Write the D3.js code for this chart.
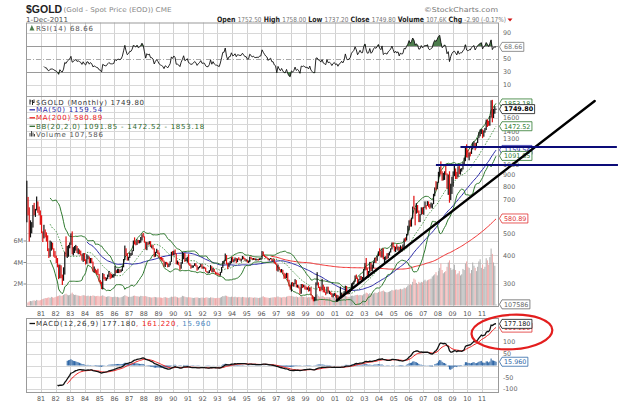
<!DOCTYPE html>
<html>
<head>
<meta charset="utf-8">
<script src="https://cdn.jsdelivr.net/npm/d3@7"></script>
<style>
body { margin: 0; background: #fff; }
text { font-family: "DejaVu Sans", sans-serif; }
</style>
</head>
<body>
<script>
// $GOLD monthly bars, Jan 1980 .. Dec 2011 (one row per year)
var startYear = 1980;

var closes = [
  653,637,494,518,535,653,614,631,666,629,619,589,
  506,489,513,482,480,426,406,425,428,427,414,397,
  387,362,320,361,326,317,342,411,397,423,436,448,
  481,408,414,432,437,416,422,414,405,383,405,382,
  370,395,395,373,385,373,342,348,341,333,329,309,
  306,287,329,322,316,317,327,334,326,325,325,327,
  345,338,344,345,343,346,357,384,423,401,383,391,
  405,406,421,453,451,447,462,453,460,468,492,484,
  458,426,457,450,456,436,436,427,397,412,421,410,
  394,387,383,377,361,373,368,359,367,376,409,401,
  415,407,368,368,363,352,372,387,408,380,384,391,
  367,362,355,357,361,368,362,347,354,358,366,353,
  354,353,341,337,337,343,358,340,349,339,334,333,
  330,327,337,354,377,378,401,371,355,369,370,391,
  378,381,389,377,387,386,384,385,394,389,383,383,
  375,376,392,389,384,387,383,383,384,383,387,387,
  405,400,396,392,390,382,385,387,379,379,371,369,
  345,358,348,340,345,334,326,325,332,311,296,290,
  304,297,301,310,293,296,288,273,294,292,294,288,
  287,287,280,287,268,262,255,255,299,300,292,290,
  284,293,279,276,272,288,276,278,273,264,270,273,
  265,267,258,264,266,271,266,273,293,279,275,277,
  282,297,303,309,326,318,304,313,324,317,317,348,
  368,348,336,338,365,346,354,375,388,384,398,416,
  402,396,427,386,394,395,391,408,416,428,453,438,
  422,435,427,435,415,435,429,434,473,470,495,517,
  569,556,582,654,643,614,633,624,599,604,646,632,
  650,665,662,680,656,650,665,673,743,790,783,834,
  923,972,916,865,886,928,912,833,871,718,814,882,
  927,943,917,883,979,927,954,955,1000,1040,1182,1097,
  1082,1118,1113,1180,1213,1242,1181,1247,1307,1357,1385,1421,
  1332,1409,1431,1564,1537,1502,1627,1827,1624,1723,1746,1749.8
];

var highs = [
  850,722,650,570,560,665,680,640,725,690,655,630,
  600,510,545,520,505,490,430,465,460,455,430,418,
  400,390,365,365,362,330,355,415,485,440,445,456,
  500,510,435,440,445,440,430,425,420,405,410,410,
  385,405,400,396,390,390,376,358,350,345,350,332,
  312,307,335,332,322,320,330,342,337,332,330,332,
  360,345,350,350,347,348,360,386,442,430,410,395,
  412,410,422,465,480,460,470,468,467,482,495,502,
  485,460,458,457,462,462,443,445,430,415,428,422,
  412,394,394,390,380,375,375,372,368,377,415,418,
  420,425,408,380,375,364,374,415,410,410,390,395,
  405,370,365,362,362,370,370,362,356,360,368,366,
  358,357,354,342,340,345,363,359,352,349,340,337,
  336,332,339,356,378,380,408,402,372,372,378,393,
  395,385,392,390,388,393,388,387,398,396,390,385,
  383,380,395,396,390,390,389,388,386,387,389,390,
  418,416,403,398,395,390,387,390,389,385,386,374,
  369,365,357,348,349,346,336,333,336,335,313,298,
  305,306,303,315,312,298,296,290,300,300,298,296,
  292,290,294,290,290,268,264,263,305,338,305,292,
  292,316,298,292,278,292,292,280,278,274,272,274,
  273,269,268,265,292,275,272,279,295,294,280,280,
  286,302,305,310,327,330,320,315,326,325,322,349,
  371,390,352,342,375,371,365,377,391,392,400,417,
  430,418,428,430,395,397,409,410,416,430,456,457,
  440,437,448,438,436,443,438,447,475,479,497,540,
  570,575,585,655,730,645,678,665,630,607,650,650,
  653,690,665,692,690,672,682,676,745,794,846,840,
  930,976,1033,935,920,935,988,915,905,935,825,885,
  934,1005,962,930,983,990,960,966,1025,1072,1195,1227,
  1162,1130,1140,1181,1249,1265,1244,1250,1310,1388,1424,1431,
  1425,1412,1447,1575,1577,1556,1632,1913,1921,1756,1804,1758
];

var lows = [
  559,600,460,480,500,530,600,590,630,615,600,545,
  500,458,475,480,460,418,390,395,420,425,395,390,
  370,355,315,318,318,297,310,330,395,390,395,430,
  445,405,400,410,420,410,405,405,400,380,375,378,
  365,368,385,370,370,370,340,337,336,330,328,307,
  300,285,284,315,310,310,315,322,315,318,320,320,
  325,335,335,335,336,338,342,355,382,398,380,380,
  390,398,402,418,447,443,445,452,452,455,465,480,
  455,425,422,445,447,435,430,425,393,395,410,405,
  392,385,380,376,358,356,365,355,356,362,375,400,
  400,405,366,365,362,345,350,368,385,375,378,372,
  365,360,350,353,354,360,358,343,347,352,356,350,
  350,350,340,336,334,335,343,338,338,338,331,330,
  328,326,326,336,353,366,378,365,349,355,365,370,
  375,373,379,370,374,382,380,376,384,385,380,376,
  372,371,374,386,382,383,382,380,381,380,382,383,
  387,398,394,390,388,381,380,385,378,377,369,366,
  343,340,347,337,338,333,316,318,318,308,293,283,
  278,293,292,300,290,289,287,271,272,288,290,284,
  283,283,278,279,267,257,252,252,254,296,288,279,
  279,283,276,275,268,272,275,271,269,263,262,266,
  262,255,255,255,263,264,263,265,270,277,270,271,
  276,280,288,299,307,316,301,300,312,311,314,316,
  344,345,323,320,336,342,341,352,371,371,379,397,
  399,392,392,385,371,381,386,389,400,412,425,434,
  417,414,425,420,414,415,417,428,433,460,465,490,
  515,535,535,580,640,542,610,615,560,560,603,606,
  603,647,636,660,650,640,648,642,671,728,772,780,
  833,887,905,850,853,857,902,785,737,681,700,744,
  800,890,865,866,881,908,904,932,952,1001,1035,1075,
  1073,1044,1087,1114,1165,1203,1155,1179,1243,1305,1330,1361,
  1308,1325,1380,1417,1462,1478,1480,1605,1532,1600,1670,1737
];

// volume in thousands
var volumes = [
  220,300,380,420,400,450,480,430,520,480,460,500,
  560,600,640,700,680,720,760,700,800,760,720,780,
  820,860,900,950,880,920,980,1050,1100,1000,950,980,
  1100,1200,1050,980,1000,950,920,900,880,920,960,940,
  900,880,920,860,900,880,940,900,860,880,900,850,
  860,900,950,880,820,800,840,860,820,800,780,800,
  820,780,800,760,740,780,820,880,960,900,840,800,
  820,800,840,900,920,880,860,840,820,900,880,860,
  860,880,840,800,780,760,740,760,800,780,760,740,
  760,740,720,700,760,780,740,720,700,760,820,800,
  820,840,800,760,720,740,780,900,860,820,780,760,
  780,760,740,720,700,720,740,760,720,700,720,740,
  720,700,740,760,720,700,760,740,720,700,680,700,
  720,700,740,800,880,860,920,900,840,800,780,820,
  800,780,820,780,760,800,780,760,800,780,760,740,
  760,740,780,760,740,720,760,740,720,700,720,740,
  820,860,780,760,740,720,700,720,740,760,780,760,
  820,840,780,760,740,780,800,760,820,860,900,880,
  900,860,820,800,840,780,760,820,880,840,800,780,
  760,740,780,760,800,840,860,820,1000,1050,900,820,
  800,900,860,780,760,800,780,760,740,780,760,740,
  760,780,800,760,840,780,760,780,900,860,820,800,
  840,900,920,880,960,980,1000,940,980,960,940,1050,
  1100,1200,1150,1050,1150,1100,1050,1120,1200,1180,1160,1250,
  1300,1280,1350,1400,1300,1250,1200,1260,1300,1350,1450,1400,
  1420,1480,1500,1450,1500,1550,1500,1520,1650,1600,1700,1850,
  1950,2000,1900,2200,2500,2400,2100,2000,2200,2100,2200,2150,
  2300,2400,2250,2350,2400,2450,2500,2700,2800,2900,3100,2800,
  3200,3500,3900,3300,3000,3100,3200,3600,4000,4200,3500,3300,
  3400,3800,3300,2900,3000,3200,2800,2900,3400,3300,3900,4100,
  3600,3500,3000,3300,4000,3700,3500,3200,3600,4100,4300,3500,
  3800,3400,3600,4400,4200,3800,4500,5300,4800,4000,3700,108
];

var yearLabels = ['81','82','83','84','85','86','87','88','89','90','91','92','93','94','95','96',
                  '97','98','99','00','01','02','03','04','05','06','07','08','09','10','11'];
var priceTicks = [300,400,500,600,700,800,900,1000,1100,1200,1300,1400,1500,1600,1700,1800];
var volumeTicks = [2000,4000,6000];
var volumeTickLabels = ['2M','4M','6M'];
var rsiTicks = [10,30,50,70,90];
var macdTicks = [-100,-50,0,50,100,150];

// last values as printed on the chart
var lastClose = 1749.80, lastMa50 = 1159.54, lastMa200 = 580.89;
var lastBB = [1091.85, 1472.52, 1853.18];
var lastVolume = 107586, lastRsi = 68.66;
var lastMacd = [177.180, 161.220, 15.960];

// hand-drawn marks on the picture, in date / value terms
var trendLine = [['2001-02-15', 254], ['2018-09-01', 1900]];
var levelLines = [
  [['2009-07-15', 1194], ['2020-03-05', 1194]],
  [['2007-11-13', 996], ['2020-04-01', 996]]
];
var macdCircle = {from: '2010-04-15', to: '2015-10-15', top: 216, bottom: 69};

var parse = d3.timeParse('%Y-%m-%d');
var L = 26, R = 499;
var rsiTop = 22.5, rsiBottom = 96, mainTop = 96, mainBottom = 306, macdTop = 318, macdBottom = 392;

var x = d3.scaleTime().domain([new Date(1981, 0, 1), new Date(2011, 0, 1)]).range([41, 482]);
var yPrice = d3.scaleLog().domain([300, 1600]).range([284, 118]);
var yVol = d3.scaleLinear().domain([0, 6000]).range([305.5, 241]);
var yRsi = d3.scaleLinear().domain([30, 70]).range([72, 46]);
var yMacd = d3.scaleLinear().domain([-100, 100]).range([389, 342]);

var bars = closes.map(function(c, i) {
    return {
        date: new Date(startYear + Math.floor(i / 12), i % 12, 15),
        close: c, high: highs[i], low: lows[i], vol: volumes[i],
        up: i === 0 || c >= closes[i - 1]
    };
});

function sma(a, n) {
    return a.map(function(v, i) { return i < n - 1 ? null : d3.mean(a.slice(i - n + 1, i + 1)); });
}
function ema(a, n) {
    var out = a.map(function() { return null; });
    var f = a.findIndex(function(v) { return v != null; });
    var s = f + n - 1, k = 2 / (n + 1);
    if (f < 0 || s >= a.length) return out;
    out[s] = d3.mean(a.slice(f, s + 1));
    for (var i = s + 1; i < a.length; i++) out[i] = a[i] * k + out[i - 1] * (1 - k);
    return out;
}
function rsi(a, n) {
    var out = a.map(function() { return null; });
    var g = 0, l = 0;
    for (var i = 1; i <= n; i++) {
        var d = a[i] - a[i - 1];
        if (d > 0) g += d; else l -= d;
    }
    g /= n; l /= n;
    out[n] = 100 - 100 / (1 + g / l);
    for (i = n + 1; i < a.length; i++) {
        d = a[i] - a[i - 1];
        g = (g * (n - 1) + Math.max(d, 0)) / n;
        l = (l * (n - 1) + Math.max(-d, 0)) / n;
        out[i] = 100 - 100 / (1 + g / l);
    }
    return out;
}

var ma50 = sma(closes, 50), ma200 = sma(closes, 200), mid20 = sma(closes, 20);
var sd20 = closes.map(function(v, i) {
    if (i < 19) return null;
    return Math.sqrt(d3.mean(closes.slice(i - 19, i + 1), function(c) { return (c - mid20[i]) * (c - mid20[i]); }));
});
var bbUp = mid20.map(function(m, i) { return m == null ? null : m + 2 * sd20[i]; });
var bbLo = mid20.map(function(m, i) { return m == null ? null : m - 2 * sd20[i]; });
var rsi14 = rsi(closes, 14);
var ema12 = ema(closes, 12), ema26 = ema(closes, 26);
var macd = closes.map(function(v, i) { return ema26[i] == null ? null : ema12[i] - ema26[i]; });
var signal = ema(macd, 9);
var hist = macd.map(function(v, i) { return signal[i] == null ? null : v - signal[i]; });

function pathOf(vals, ys) {
    return d3.line()
        .defined(function(d, i) { return vals[i] != null; })
        .x(function(d) { return x(d.date); })
        .y(function(d, i) { return ys(vals[i]); })(bars);
}

var svg = d3.select('body').append('svg')
    .attr('width', 640).attr('height', 405).style('display', 'block');
svg.append('rect').attr('width', 640).attr('height', 405).attr('fill', '#fff');

var defs = svg.append('defs');
[['clipRsi', rsiTop, rsiBottom], ['clipMain', mainTop, mainBottom], ['clipMacd', macdTop, macdBottom]].forEach(function(c) {
    defs.append('clipPath').attr('id', c[0]).append('rect')
        .attr('x', L).attr('y', c[1]).attr('width', R - L).attr('height', c[2] - c[1]);
});

var yearDates = yearLabels.map(function(s, i) { return new Date(1981 + i, 0, 1); });

function vGrid(top, bottom) {
    svg.append('g').selectAll('line').data(yearDates).enter().append('line')
        .attr('x1', function(d) { return Math.round(x(d)) + 0.5; })
        .attr('x2', function(d) { return Math.round(x(d)) + 0.5; })
        .attr('y1', top).attr('y2', bottom)
        .attr('stroke', '#d2d2d2').attr('stroke-width', 1);
}
function hGrid(vals, ys, color, dash) {
    svg.append('g').selectAll('line').data(vals).enter().append('line')
        .attr('x1', L).attr('x2', R)
        .attr('y1', function(d) { return Math.round(ys(d)) + 0.5; })
        .attr('y2', function(d) { return Math.round(ys(d)) + 0.5; })
        .attr('stroke', color).attr('stroke-dasharray', dash || null);
}

// ---- grids
vGrid(rsiTop, rsiBottom);
vGrid(mainTop, mainBottom);
vGrid(macdTop, macdBottom);
hGrid([10, 90], yRsi, '#d8d8d8');
hGrid([30, 70], yRsi, '#9a9a9a');
hGrid([50], yRsi, '#a8a8a8', '5,2,1,2');
hGrid(priceTicks.filter(function(v) { return yPrice(v) > mainTop + 2; }), yPrice, '#d8d8d8');
hGrid(volumeTicks, yVol, '#d8d8d8');
hGrid(macdTicks, yMacd, '#d8d8d8');

[[rsiTop, rsiBottom], [mainTop, mainBottom], [macdTop, macdBottom]].forEach(function(p) {
    svg.append('rect').attr('x', L + 0.5).attr('y', p[0] + 0.5)
        .attr('width', R - L - 1).attr('height', p[1] - p[0])
        .attr('fill', 'none').attr('stroke', '#9a9a9a');
});

// ---- RSI panel
var rsiG = svg.append('g').attr('clip-path', 'url(#clipRsi)');
rsiG.append('path')
    .attr('d', d3.area()
        .defined(function(d, i) { return rsi14[i] != null; })
        .x(function(d) { return x(d.date); })
        .y0(yRsi(70))
        .y1(function(d, i) { return yRsi(Math.max(rsi14[i], 70)); })(bars))
    .attr('fill', '#4c7c4c');
rsiG.append('path')
    .attr('d', d3.area()
        .defined(function(d, i) { return rsi14[i] != null; })
        .x(function(d) { return x(d.date); })
        .y0(yRsi(30))
        .y1(function(d, i) { return yRsi(Math.min(rsi14[i], 30)); })(bars))
    .attr('fill', '#4c7c4c');
rsiG.append('path').attr('d', pathOf(rsi14, yRsi))
    .attr('fill', 'none').attr('stroke', '#111').attr('stroke-width', 0.9);

// ---- main panel
var mainG = svg.append('g').attr('clip-path', 'url(#clipMain)');
mainG.append('g').selectAll('rect').data(bars).enter().append('rect')
    .attr('x', function(d) { return x(d.date) - 0.5; })
    .attr('width', 1)
    .attr('y', function(d) { return yVol(d.vol); })
    .attr('height', function(d) { return yVol(0) - yVol(d.vol); })
    .attr('fill', function(d) { return d.up ? '#a6a6a6' : '#eea0a0'; })
    .attr('opacity', 0.9);

mainG.append('path').attr('d', pathOf(ma200, yPrice)).attr('fill', 'none').attr('stroke', '#f03030').attr('stroke-width', 1);
mainG.append('path').attr('d', pathOf(ma50, yPrice)).attr('fill', 'none').attr('stroke', '#2a2aa8').attr('stroke-width', 1);
mainG.append('path').attr('d', pathOf(mid20, yPrice)).attr('fill', 'none').attr('stroke', '#3c8c3c').attr('stroke-width', 0.9).attr('stroke-dasharray', '1.5,1.5');
mainG.append('path').attr('d', pathOf(bbUp, yPrice)).attr('fill', 'none').attr('stroke', '#2f7a2f').attr('stroke-width', 1);
mainG.append('path').attr('d', pathOf(bbLo, yPrice)).attr('fill', 'none').attr('stroke', '#2f7a2f').attr('stroke-width', 1);

mainG.append('g').selectAll('rect').data(bars).enter().append('rect')
    .attr('x', function(d) { return x(d.date) - 0.6; })
    .attr('width', 1.2)
    .attr('y', function(d) { return yPrice(d.high); })
    .attr('height', function(d) { return Math.max(1, yPrice(d.low) - yPrice(d.high)); })
    .attr('fill', function(d) { return d.up ? '#111' : '#e01010'; });

// ---- MACD panel
var macdG = svg.append('g').attr('clip-path', 'url(#clipMacd)');
macdG.append('g').selectAll('rect').data(bars.filter(function(d, i) { return hist[i] != null; })).enter().append('rect')
    .attr('x', function(d) { return x(d.date) - 0.55; })
    .attr('width', 1.1)
    .attr('y', function(d) { var v = hist[bars.indexOf(d)]; return Math.min(yMacd(v), yMacd(0)); })
    .attr('height', function(d) { var v = hist[bars.indexOf(d)]; return Math.abs(yMacd(v) - yMacd(0)); })
    .attr('fill', '#2f67a6');
macdG.append('path').attr('d', pathOf(signal, yMacd)).attr('fill', 'none').attr('stroke', '#f02020').attr('stroke-width', 1);
macdG.append('path').attr('d', pathOf(macd, yMacd)).attr('fill', 'none').attr('stroke', '#111').attr('stroke-width', 1.3);

// ---- axes text (tick labels that sit under a value tag are hidden, as on the chart)
var axisFont = 6.4;
var rsiTags = [lastRsi];
var priceTags = [lastBB[2], lastClose, lastBB[1], lastMa50, lastBB[0], lastMa200];
var macdTags = lastMacd;
function rightLabels(vals, ys, tags, top, bottom) {
    var shown = vals.filter(function(v) {
        return ys(v) > top && ys(v) < bottom &&
            tags.every(function(t) { return Math.abs(ys(t) - ys(v)) >= 4.8; });
    });
    svg.append('g').selectAll('text').data(shown).enter().append('text')
        .attr('x', 503).attr('y', function(d) { return ys(d) + 2.3; })
        .attr('font-size', axisFont).attr('fill', '#666')
        .text(String);
}
rightLabels(rsiTicks, yRsi, rsiTags, rsiTop, rsiBottom);
rightLabels(priceTicks, yPrice, priceTags, mainTop, mainBottom);
rightLabels(macdTicks, yMacd, macdTags, macdTop, macdBottom);

svg.append('g').selectAll('text').data(volumeTicks).enter().append('text')
    .attr('x', 23).attr('y', function(d) { return yVol(d) + 2.3; })
    .attr('text-anchor', 'end').attr('font-size', axisFont).attr('fill', '#666')
    .text(function(d, i) { return volumeTickLabels[i]; });
svg.append('g').selectAll('line').data(volumeTicks).enter().append('line')
    .attr('x1', 23.5).attr('x2', L).attr('y1', function(d) { return yVol(d); }).attr('y2', function(d) { return yVol(d); })
    .attr('stroke', '#888');

[316, 401].forEach(function(by) {
    svg.append('g').selectAll('text').data(yearDates).enter().append('text')
        .attr('x', function(d) { return x(d); }).attr('y', by)
        .attr('text-anchor', 'middle').attr('font-size', axisFont).attr('fill', '#555')
        .text(function(d, i) { return yearLabels[i]; });
});

function tag(cy, label, color, bold) {
    var g = svg.append('g');
    var p = g.append('path');
    var t = g.append('text').attr('x', 504).attr('y', cy + 2.3)
        .attr('font-size', axisFont).attr('fill', bold ? '#000' : color)
        .attr('font-weight', bold ? 'bold' : null).text(label);
    var x1 = 504 + t.node().getComputedTextLength() + 1.5;
    p.attr('d', 'M499.5,' + cy + 'L502,' + (cy - 4.5) + 'H' + x1 + 'V' + (cy + 4.5) + 'H502Z')
        .attr('fill', '#fff').attr('stroke', color).attr('stroke-width', 0.8);
}
tag(yRsi(lastRsi), lastRsi.toFixed(2), '#777');
tag(yPrice(lastBB[2]), lastBB[2].toFixed(2), '#2f7a2f');
tag(yPrice(lastClose), lastClose.toFixed(2), '#111', true);
tag(yPrice(lastBB[1]), lastBB[1].toFixed(2), '#2f7a2f');
tag(yPrice(lastMa50), lastMa50.toFixed(2), '#2a2aa8');
tag(yPrice(lastBB[0]), lastBB[0].toFixed(2), '#2f7a2f');
tag(yPrice(lastMa200), lastMa200.toFixed(2), '#e03030');
tag(yVol(lastVolume / 1000), String(lastVolume), '#666');
tag(yMacd(lastMacd[1]), lastMacd[1].toFixed(3), '#e03030');
tag(yMacd(lastMacd[0]), lastMacd[0].toFixed(3), '#111');
tag(yMacd(lastMacd[2]), lastMacd[2].toFixed(3), '#2f67a6');

// ---- legends
function legend(y, parts, mark) {
    var t = svg.append('text').attr('x', 36).attr('y', y).attr('font-size', 7).attr('letter-spacing', 0.75);
    parts.forEach(function(p) { t.append('tspan').attr('fill', p[1]).text(p[0]); });
    if (mark) svg.append('line').attr('x1', 29.5).attr('x2', 35).attr('y1', y - 2.5).attr('y2', y - 2.5)
        .attr('stroke', mark).attr('stroke-width', 1.3);
}
legend(30.5, [['RSI(14) ' + lastRsi.toFixed(2), '#555']]);
svg.append('path').attr('d', 'M29.5,30.5L31.8,25L34.5,30.5Z').attr('fill', '#4c7c4c');
legend(104.5, [['$GOLD (Monthly) ' + lastClose.toFixed(2), '#333']]);
svg.append('path').attr('d', 'M30,99.5V104.5M30,101H31.5M32.5,100V105M32.5,102.5H34M34,99.5V103').attr('stroke', '#222').attr('fill', 'none');
legend(112.3, [['MA(50) ' + lastMa50.toFixed(2), '#2a2aa8']], '#2a2aa8');
legend(120.3, [['MA(200) ' + lastMa200.toFixed(2), '#ee2020']], '#ee2020');
legend(128.8, [['BB(20,2.0) ' + lastBB.map(function(v) { return v.toFixed(2); }).join(' - '), '#2f6a2f']], '#2f6a2f');
legend(136.6, [['Volume ' + d3.format(',')(lastVolume), '#555']]);
svg.append('path').attr('d', 'M30,136.5V133M31.5,136.5V131M33,136.5V132.5M34.5,136.5V134').attr('stroke', '#444').attr('fill', 'none');
legend(326, [['MACD(12,26,9) ' + lastMacd[0].toFixed(3), '#333'], [', ' + lastMacd[1].toFixed(3), '#ee2020'], [', ' + lastMacd[2].toFixed(3), '#4a86c0']], '#111');

// ---- header
var h1 = svg.append('text').attr('x', 26).attr('y', 12.5);
h1.append('tspan').attr('font-family', '"Liberation Sans", sans-serif').attr('font-weight', 'bold').attr('font-size', 10.5).attr('fill', '#222').text('$GOLD');
svg.append('text').attr('x', 63.5).attr('y', 12).attr('font-size', 6.6).attr('fill', '#888')
    .attr('textLength', 108).attr('lengthAdjust', 'spacingAndGlyphs').text('(Gold - Spot Price (EOD)) CME');
svg.append('text').attr('x', 498).attr('y', 11.5).attr('text-anchor', 'end').attr('font-size', 6.8).attr('fill', '#777')
    .attr('textLength', 74).attr('lengthAdjust', 'spacingAndGlyphs').text('\u00a9StockCharts.com');
svg.append('text').attr('x', 26).attr('y', 21.5).attr('font-size', 6.8).attr('fill', '#555')
    .attr('textLength', 42).attr('lengthAdjust', 'spacingAndGlyphs').text('1-Dec-2011');

var quote = [['Open', '1752.50'], ['High', '1758.00'], ['Low', '1737.20'], ['Close', '1749.80'],
             ['Volume', '107.6K'], ['Chg', '-2.90 (-0.17%)']];
var h2 = svg.append('text').attr('x', 217).attr('y', 21.5).attr('font-size', 6.8)
    .attr('textLength', 289).attr('lengthAdjust', 'spacingAndGlyphs');
quote.forEach(function(q, i) {
    h2.append('tspan').attr('font-weight', 'bold').attr('fill', '#222').attr('font-size', 7.4).text((i ? ' ' : '') + q[0] + ' ');
    h2.append('tspan').attr('fill', '#777').text(q[1]);
});
svg.append('path').attr('d', 'M507.5,18.5L512.5,18.5L510,21.5Z').attr('fill', '#d01010');

// ---- hand-drawn annotations
svg.append('line')
    .attr('x1', x(parse(trendLine[0][0]))).attr('y1', yPrice(trendLine[0][1]))
    .attr('x2', x(parse(trendLine[1][0]))).attr('y2', yPrice(trendLine[1][1]))
    .attr('stroke', '#000').attr('stroke-width', 2.4).attr('stroke-linecap', 'round');
levelLines.forEach(function(l) {
    svg.append('line')
        .attr('x1', x(parse(l[0][0]))).attr('y1', yPrice(l[0][1]))
        .attr('x2', x(parse(l[1][0]))).attr('y2', yPrice(l[1][1]))
        .attr('stroke', '#0c0c78').attr('stroke-width', 2);
});
var cx0 = x(parse(macdCircle.from)), cx1 = x(parse(macdCircle.to));
var cy0 = yMacd(macdCircle.top), cy1 = yMacd(macdCircle.bottom);
svg.append('ellipse')
    .attr('cx', (cx0 + cx1) / 2).attr('cy', (cy0 + cy1) / 2)
    .attr('rx', (cx1 - cx0) / 2).attr('ry', (cy1 - cy0) / 2)
    .attr('transform', 'rotate(-3,' + (cx0 + cx1) / 2 + ',' + (cy0 + cy1) / 2 + ')')
    .attr('fill', 'none').attr('stroke', '#e31e1e').attr('stroke-width', 2.2);
</script>
</body>
</html>
